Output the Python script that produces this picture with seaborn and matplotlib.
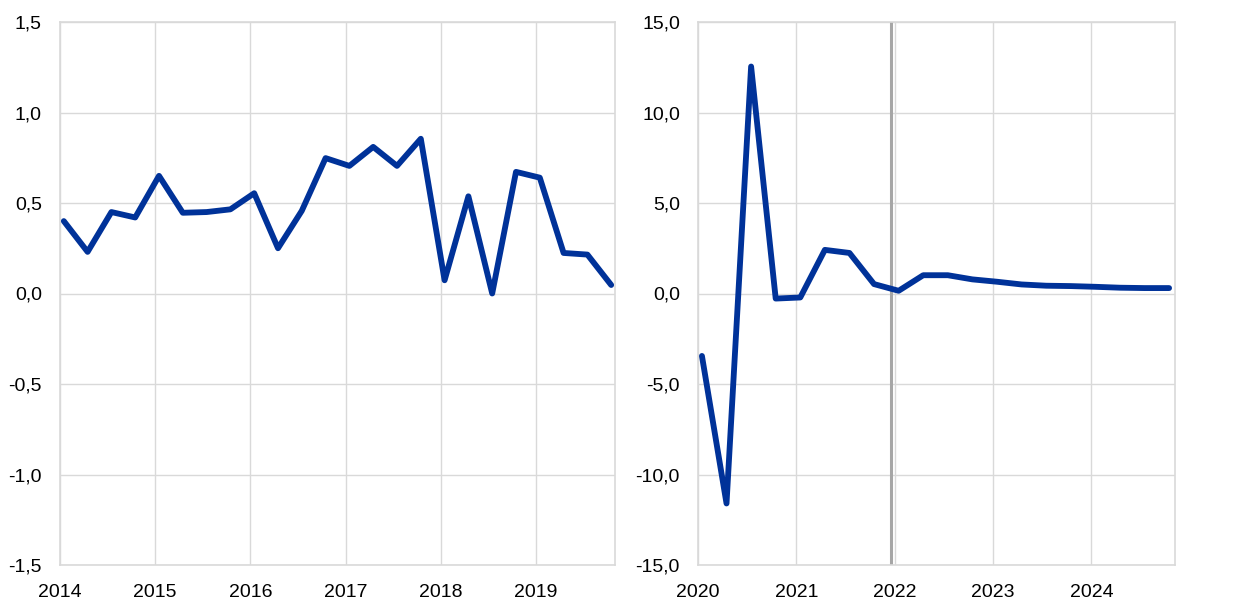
import matplotlib
matplotlib.use("Agg")
import matplotlib.pyplot as plt
import matplotlib.ticker as mticker
import seaborn as sns
import pandas as pd

# quarterly growth, 2014Q1 - 2019Q4
left_values = [0.40, 0.23, 0.45, 0.42, 0.65, 0.446, 0.45, 0.465,
               0.554, 0.25, 0.457, 0.748, 0.705, 0.81, 0.705, 0.855,
               0.073, 0.537, 0.0, 0.672, 0.64, 0.224, 0.215, 0.047]
left_years = [2014, 2015, 2016, 2017, 2018, 2019]

# quarterly growth, 2020Q1 - 2024Q4
right_values = [-3.45, -11.6, 12.54, -0.28, -0.22, 2.41, 2.24, 0.52,
                0.15, 1.01, 1.01, 0.78, 0.65, 0.50, 0.43, 0.41,
                0.37, 0.32, 0.30, 0.30]
right_years = [2020, 2021, 2022, 2023, 2024]
projection_start = 2021.96

def quarters(start_year, n):
    return [start_year + i / 4 + 0.04 for i in range(n)]

left_df = pd.DataFrame({"x": quarters(2014, len(left_values)), "y": left_values})
right_df = pd.DataFrame({"x": quarters(2020, len(right_values)), "y": right_values})

sns.set_style("whitegrid")
plt.rcParams["font.family"] = ["Liberation Sans", "DejaVu Sans"]

fig = plt.figure(figsize=(12.4, 6.13), dpi=100)
ax1 = fig.add_axes([60 / 1240, 48 / 613, 555 / 1240, 543 / 613])
ax2 = fig.add_axes([698 / 1240, 48 / 613, 477 / 1240, 543 / 613])

blue = "#003299"
grid = "#d9d9d9"
comma = lambda fmt: mticker.FuncFormatter(lambda v, p: format(v, fmt).replace(".", ","))

sns.lineplot(data=left_df, x="x", y="y", ax=ax1, color=blue, linewidth=4.2,
             solid_joinstyle="round", solid_capstyle="round")
ax1.set_xlim(2014, 2019.83)
ax1.set_ylim(-1.5, 1.5)
ax1.set_yticks([-1.5, -1.0, -0.5, 0.0, 0.5, 1.0, 1.5])
ax1.set_xticks(left_years)
ax1.yaxis.set_major_formatter(comma(".1f"))

sns.lineplot(data=right_df, x="x", y="y", ax=ax2, color=blue, linewidth=4.2,
             solid_joinstyle="round", solid_capstyle="round")
ax2.axvline(projection_start, color="#a6a6a6", linewidth=2.2, zorder=1)
ax2.set_xlim(2020, 2024.85)
ax2.set_ylim(-15, 15)
ax2.set_yticks([-15, -10, -5, 0, 5, 10, 15])
ax2.set_xticks(right_years)
ax2.yaxis.set_major_formatter(comma(".1f"))

for ax in (ax1, ax2):
    ax.set_xlabel("")
    ax.set_ylabel("")
    ax.grid(True, color=grid, linewidth=1)
    for s in ax.spines.values():
        s.set_color(grid)
        s.set_linewidth(1.2)
    ax.tick_params(axis="both", labelsize=14, length=0, colors="black")
    ax.tick_params(axis="y", pad=13)
    ax.tick_params(axis="x", pad=14)

fig.savefig("out.png", dpi=100)
